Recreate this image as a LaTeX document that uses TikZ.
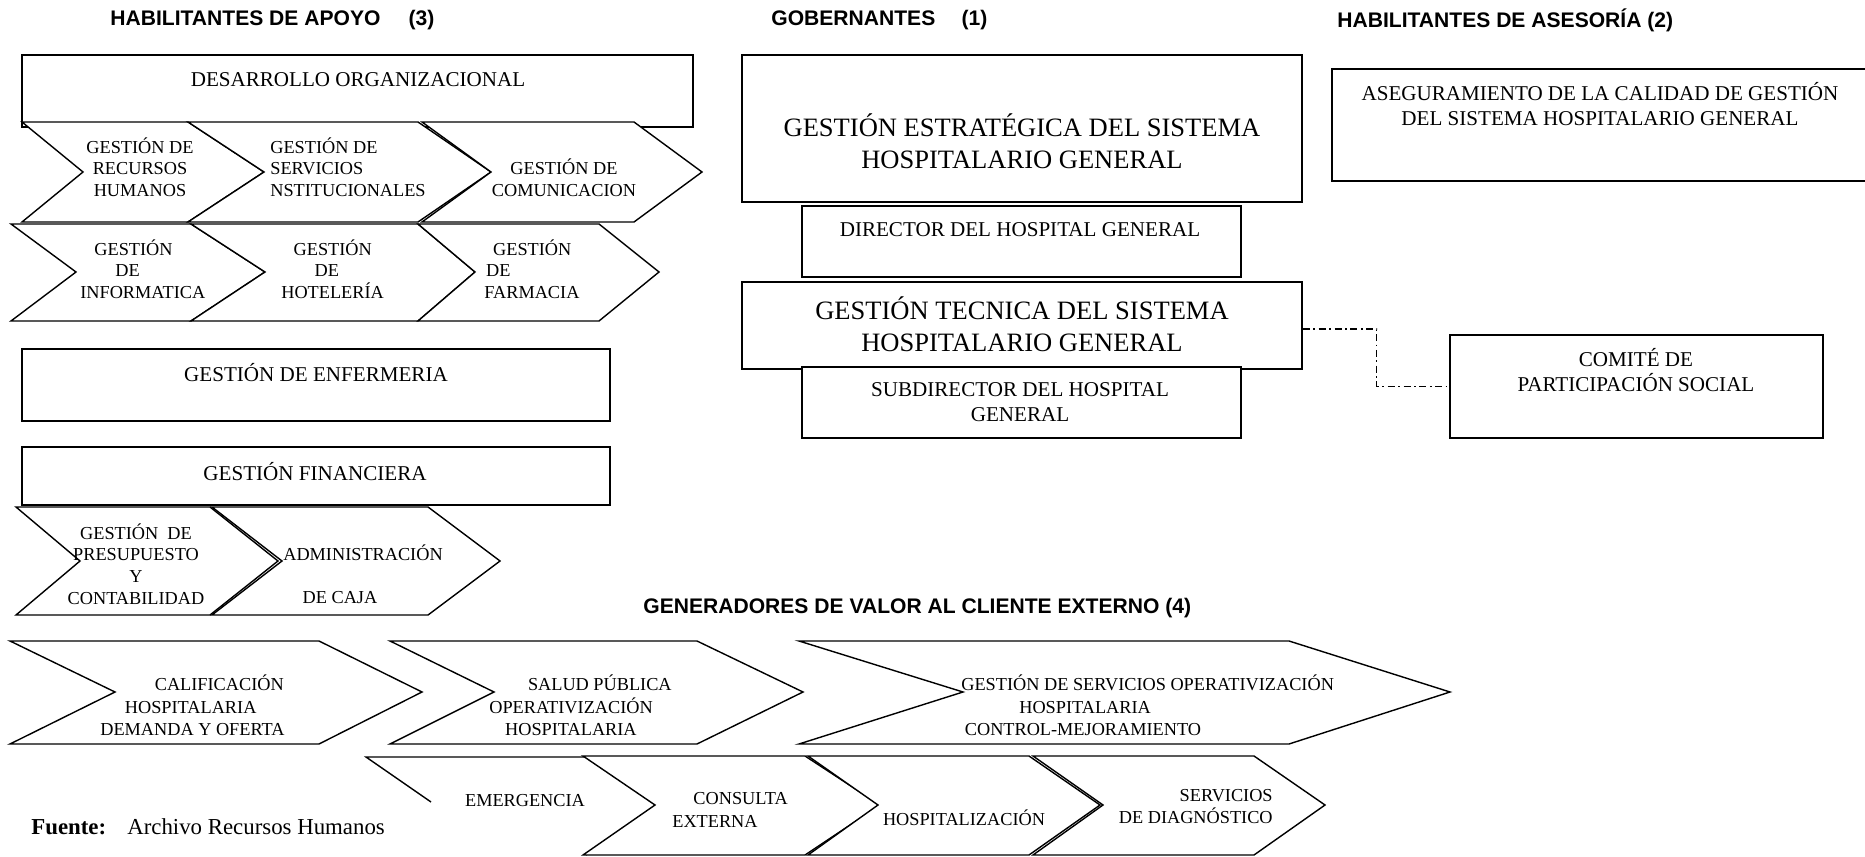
\documentclass[tikz,border=0pt]{standalone}
\usepackage{fontspec}
\setmainfont{Liberation Serif}
\setsansfont{Liberation Sans}
\usetikzlibrary{positioning}
\tikzset{
  box/.style={
    rectangle, draw=black, line width=1.1pt, fill=white, inner sep=0pt
  },
  chev/.style={draw=black, line width=0.8pt, fill=white, line join=miter},
  ttl/.style={font=\sffamily\bfseries\fontsize{12}{14}\selectfont,
    inner sep=0pt, anchor=west},
  bigtxt/.style={font=\fontsize{15.1}{18.2}\selectfont, align=center,
    inner sep=0pt},
  midtxt/.style={font=\fontsize{12}{14.2}\selectfont, align=center,
    inner sep=0pt},
  smltxt/.style={font=\fontsize{10.4}{12.3}\selectfont, align=center,
    inner sep=0pt},
  lowtxt/.style={font=\fontsize{10.4}{12.8}\selectfont, align=left,
    inner sep=0pt, anchor=west},
  dashdot/.style={line width=0.6pt,
    dash pattern=on 4pt off 2pt on 1pt off 2pt}
}

\begin{document}
\begin{tikzpicture}[x=0.02cm, y=-0.02cm]

\path[use as bounding box, fill=white] (0,0) rectangle (1865,857);

% ── Titles ─────────────────────────────────────────────────────────
\node[ttl] (t3) at (110,20) {HABILITANTES DE APOYO\hspace{16pt}(3)};
\node[ttl] (t1) at (771,20) {GOBERNANTES\hspace{15pt}(1)};
\node[ttl] (t2) at (1337,20) {HABILITANTES DE ASESORÍA (2)};
\node[ttl] (t4) at (643,608) {GENERADORES DE VALOR AL CLIENTE EXTERNO (4)};

% ── Habilitantes de apoyo (3) ──────────────────────────────────────
\node[box, minimum width=13.42cm, minimum height=1.44cm] (desar)
  at (357.5,91) {};
\node[midtxt] (desarT) at (358,80) {DESARROLLO ORGANIZACIONAL};

% chevron rows: left / notch / right / tip
\foreach \xa/\xb/\xc/\xd in {22/83/188/264, 188/264/418/491, 422/491/634/702}
  \draw[chev] (\xa,122) -- (\xc,122) -- (\xd,172) -- (\xc,222)
    -- (\xa,222) -- (\xb,172) -- cycle;
\foreach \xa/\xb/\xc/\xd in {11/76/191/265, 191/265/418/475, 418/475/599/659}
  \draw[chev] (\xa,224) -- (\xc,224) -- (\xd,272) -- (\xc,321)
    -- (\xa,321) -- (\xb,272) -- cycle;

\node[smltxt] (rrhh) at (140,167) {GESTIÓN DE\\RECURSOS\\HUMANOS};
\node[smltxt, align=left, anchor=west] (servi) at (270,167)
  {GESTIÓN DE\\SERVICIOS\\NSTITUCIONALES};
\node[smltxt] (comu) at (564,178) {GESTIÓN DE\\COMUNICACION};
\node[smltxt, align=left, anchor=west] (info) at (80,269)
  {\hspace*{8pt}GESTIÓN\\\hspace*{20pt}DE\\INFORMATICA};
\node[smltxt, align=left, anchor=west] (hotel) at (281,269)
  {\hspace*{7pt}GESTIÓN\\\hspace*{19pt}DE\\HOTELERÍA};
\node[smltxt, align=left, anchor=west] (farm) at (484,269)
  {\hspace*{5pt}GESTIÓN\\\hspace*{1pt}DE\\FARMACIA};

\node[box, minimum width=11.76cm, minimum height=1.44cm] (enf)
  at (316,385) {};
\node[midtxt] (enfT) at (316,373) {GESTIÓN DE ENFERMERIA};

\node[box, minimum width=11.76cm, minimum height=1.16cm] (fin)
  at (316,476) {};
\node[midtxt] (finT) at (315,472) {GESTIÓN FINANCIERA};

\foreach \xa/\xb/\xc/\xd in {16/80/210/278, 212/282/428/500}
  \draw[chev] (\xa,507) -- (\xc,507) -- (\xd,561) -- (\xc,615)
    -- (\xa,615) -- (\xb,561) -- cycle;
\node[smltxt] (presu) at (136,564)
  {GESTIÓN~ DE\\PRESUPUESTO\\Y\\CONTABILIDAD};
\node[smltxt, align=left, anchor=west] (caja) at (283,574)
  {ADMINISTRACIÓN\\[12pt]\hspace*{11pt}DE CAJA};

% ── Gobernantes (1) ────────────────────────────────────────────────
\node[box, minimum width=11.2cm, minimum height=2.94cm] (estr)
  at (1022,128.5) {};
\node[bigtxt] (estrT) at (1022,141)
  {GESTIÓN ESTRATÉGICA DEL SISTEMA\\HOSPITALARIO GENERAL};

\node[box, minimum width=8.78cm, minimum height=1.42cm] (dir)
  at (1021.5,241.5) {};
\node[midtxt] (dirT) at (1020,230) {DIRECTOR DEL HOSPITAL GENERAL};

\node[box, minimum width=11.2cm, minimum height=1.74cm] (tec)
  at (1022,325.5) {};
\node[bigtxt] (tecT) at (1022,324)
  {GESTIÓN TECNICA DEL SISTEMA\\HOSPITALARIO GENERAL};

\node[box, minimum width=8.78cm, minimum height=1.42cm] (sub)
  at (1021.5,402.5) {};
\node[midtxt] (subT) at (1020,402.5) {SUBDIRECTOR DEL HOSPITAL\\GENERAL};

% ── Habilitantes de asesoría (2) ───────────────────────────────────
\node[box, minimum width=10.8cm, minimum height=2.24cm] (aseg)
  at (1602,125) {};
\node[midtxt] (asegT) at (1600,104.5)
  {ASEGURAMIENTO DE LA CALIDAD DE GESTIÓN\\DEL SISTEMA HOSPITALARIO GENERAL};

\node[box, minimum width=7.46cm, minimum height=2.06cm] (comite)
  at (1636.5,386.5) {};
\node[midtxt] (comiteT) at (1636,370.5) {COMITÉ DE\\PARTICIPACIÓN SOCIAL};

\draw[dashdot] (tec.east) ++(0,3.5) -- ++(74,0) |- (comite.west);

% ── Generadores de valor (4) ───────────────────────────────────────
\foreach \xa/\xb/\xc/\xd in {10/115/319/422, 390/494/697/803, 799/963/1289/1450}
  \draw[chev] (\xa,641) -- (\xc,641) -- (\xd,692) -- (\xc,744)
    -- (\xa,744) -- (\xb,692) -- cycle;
\node[lowtxt] (calif) at (100,705.5)
  {\hspace*{31pt}CALIFICACIÓN\\\hspace*{14pt}HOSPITALARIA\\DEMANDA Y OFERTA};
\node[lowtxt] (salud) at (489,705.5)
  {\hspace*{22pt}SALUD PÚBLICA\\OPERATIVIZACIÓN\\\hspace*{9pt}HOSPITALARIA};
\node[lowtxt] (gserv) at (961,705.5)
  {GESTIÓN DE SERVICIOS OPERATIVIZACIÓN\\\hspace*{33pt}HOSPITALARIA\\
   \hspace*{2pt}CONTROL-MEJORAMIENTO};

% partly hidden first chevron
\draw[chev, fill=none] (431,802) -- (366,757) -- (586,757) -- (656,805)
  -- (586,855);
\foreach \xa/\xb/\xc/\xd in {583/655/805/880, 808/878/1029/1100, 1033/1103/1254/1325}
  \draw[chev] (\xa,756) -- (\xc,756) -- (\xd,805) -- (\xc,855)
    -- (\xa,855) -- (\xb,805) -- cycle;
\node[smltxt] (emerg) at (525,801) {EMERGENCIA};
\node[lowtxt] (consul) at (672,810) {\hspace*{12pt}CONSULTA\\EXTERNA};
\node[smltxt] (hosp) at (964,818) {HOSPITALIZACIÓN};
\node[smltxt, align=right, anchor=east] (diag) at (1273,806.5)
  {SERVICIOS\\DE DIAGNÓSTICO};

% ── Source ─────────────────────────────────────────────────────────
\node[font=\fontsize{13}{15}\selectfont, inner sep=0pt, anchor=west]
  (fuente) at (31,827)
  {\textbf{Fuente:}\hspace{12pt}Archivo Recursos Humanos};

\end{tikzpicture}
\end{document}
